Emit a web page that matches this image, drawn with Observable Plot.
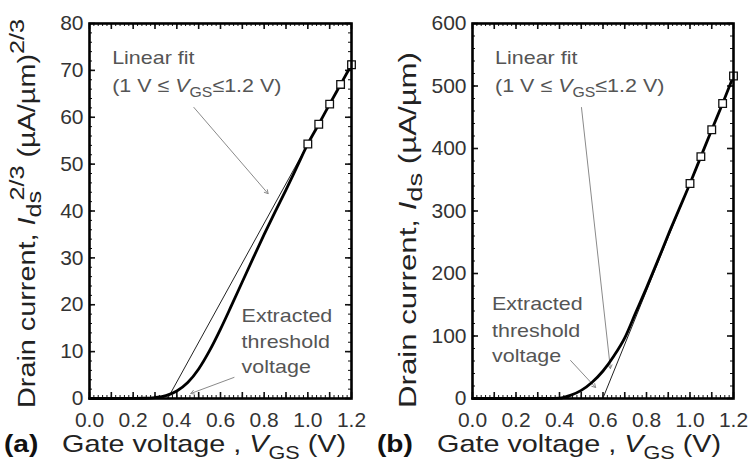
<!DOCTYPE html>
<html>
<head>
<meta charset="utf-8">
<script src="https://cdn.jsdelivr.net/npm/d3@7"></script>
<script src="https://cdn.jsdelivr.net/npm/@observablehq/plot@0.6"></script>
<style>
  html, body { margin: 0; background: #fff; }
  #wrap { display: flex; width: 749px; height: 472px; overflow: hidden; }
  #wrap svg { display: block; flex: none; }
</style>
</head>
<body>
<div id="wrap"></div>
<script>
// Gate-voltage sweep (V) shared by both measured curves
const vgs = [0, 0.1, 0.2, 0.25, 0.3, 0.35, 0.4, 0.45, 0.5, 0.55, 0.6, 0.65, 0.7, 0.75, 0.8, 0.85, 0.9, 0.95, 1.0, 1.05, 1.1, 1.15, 1.2];

// (a) Ids^(2/3) in (µA/µm)^(2/3)
const idsPow = [0, 0, 0.02, 0.05, 0.2, 0.6, 1.6, 3.4, 6.3, 10.2, 14.8, 19.8, 24.9, 30.0, 35.0, 39.8, 44.5, 49.4, 54.3, 58.5, 62.8, 67.0, 71.2];
// (b) Ids in µA/µm
const ids = [0, 0, 0, 0, 0, 0, 0.5, 5, 13, 26, 44, 68, 97, 137, 177, 219, 262, 303, 344, 387, 430, 472, 516];

// Points used for the linear fit (1 V ≤ VGS ≤ 1.2 V)
const fitVgs = [1.0, 1.05, 1.1, 1.15, 1.2];
const fitIdsPow = [54.3, 58.5, 62.8, 67.0, 71.2];
const fitIds = [344, 387, 430, 472, 516];

// Axis tick labels
const xTicks = [0, 0.2, 0.4, 0.6, 0.8, 1.0, 1.2];
const yTicksA = [0, 10, 20, 30, 40, 50, 60, 70, 80];
const yTicksB = [0, 100, 200, 300, 400, 500, 600];

const FONT = "'Liberation Sans', Arial, Helvetica, sans-serif";
const H = 472, MT = 23, MB = 74;

// Append a (possibly stretched / rotated) rich-text label made of tspans
function richText(svg, x, y, parts, {size, fill = "#222", stretch = 1, rotate = 0, weight = "normal"}) {
  const g = svg.append("g")
    .attr("transform", `translate(${x},${y}) rotate(${rotate}) scale(${stretch},1)`);
  const t = g.append("text")
    .attr("text-anchor", "start")
    .attr("font-family", FONT)
    .attr("font-size", size)
    .attr("font-weight", weight)
    .attr("fill", fill);
  for (const p of parts) {
    const s = t.append("tspan").text(p.text);
    if (p.italic) s.attr("font-style", "italic");
    if (p.size) s.attr("font-size", p.size);
    if (p.dy) s.attr("dy", p.dy);
    if (p.dx) s.attr("dx", p.dx);
  }
  return g;
}

function panel(cfg) {
  const {width, marginLeft, marginRight, yMax, yTicks, yMinorStep, yMajorStep, curveY, sqY, notes} = cfg;
  const innerW = width - marginLeft - marginRight;
  const innerH = H - MT - MB;

  const curve = vgs.map((x, i) => ({x, y: curveY[i]}));
  const squares = fitVgs.map((x, i) => ({x, y: sqY[i]}));

  // least-squares line through the fit points, drawn from its x-intercept (threshold) to 1.2 V
  const mx = d3.mean(fitVgs), my = d3.mean(sqY);
  const slope = d3.sum(fitVgs, (x, i) => (x - mx) * (sqY[i] - my)) / d3.sum(fitVgs, x => (x - mx) ** 2);
  const vth = mx - my / slope;
  const fitLine = [{x: vth, y: 0}, {x: 1.2, y: my + slope * (1.2 - mx)}];

  const xMinor = d3.range(0, 1.2001, 0.02);
  const xMajor = d3.range(0, 1.2001, 0.1);
  const yMinor = d3.range(0, yMax + 1e-9, yMinorStep);
  const yMajor = d3.range(0, yMax + 1e-9, yMajorStep);

  const tick = {stroke: "#111"};
  const plot = Plot.plot({
    width, height: H, marginLeft, marginRight, marginTop: MT, marginBottom: MB,
    style: {fontFamily: FONT, background: "transparent", color: "#333", overflow: "visible"},
    x: {domain: [0, 1.2]},
    y: {domain: [0, yMax]},
    marks: [
      // inward ticks on all four sides
      Plot.ruleX(xMinor, {...tick, insetTop: innerH - 3}),
      Plot.ruleX(xMinor, {...tick, insetBottom: innerH - 3}),
      Plot.ruleX(xMajor, {...tick, strokeWidth: 1.6, insetTop: innerH - 6}),
      Plot.ruleX(xMajor, {...tick, strokeWidth: 1.6, insetBottom: innerH - 6}),
      Plot.ruleY(yMinor, {...tick, insetRight: innerW - 3}),
      Plot.ruleY(yMinor, {...tick, insetLeft: innerW - 3}),
      Plot.ruleY(yMajor, {...tick, strokeWidth: 1.6, insetRight: innerW - 6}),
      Plot.ruleY(yMajor, {...tick, strokeWidth: 1.6, insetLeft: innerW - 6}),
      // annotation leaders
      Plot.arrow([notes.fitArrow], {x1: "x1", y1: "y1", x2: "x2", y2: "y2", stroke: "#8a8a8a", strokeWidth: 1, headLength: 6}),
      Plot.arrow([notes.vtArrow], {x1: "x1", y1: "y1", x2: "x2", y2: "y2", stroke: "#8a8a8a", strokeWidth: 1, headLength: 6}),
      // linear fit
      Plot.line(fitLine, {x: "x", y: "y", stroke: "#222", strokeWidth: 1}),
      // measured characteristic
      Plot.line(curve, {x: "x", y: "y", stroke: "#000", strokeWidth: 2.8, curve: "monotone-x"}),
      Plot.dot(squares, {x: "x", y: "y", symbol: "square", r: 4.3, fill: "#fff", stroke: "#111", strokeWidth: 1.3}),
      Plot.frame({stroke: "#000", strokeWidth: 2.6}),
      Plot.axisX(xTicks, {tickSize: 0, tickPadding: 14, fontSize: 21, tickFormat: d3.format(".1f"), label: null}),
      Plot.axisY(yTicks, {tickSize: 0, tickPadding: 6, fontSize: 21, label: null})
    ]
  });

  const svg = d3.select(plot);
  const sx = plot.scale("x"), sy = plot.scale("y");
  const noteFill = "#555";
  const nStyle = {size: 19, fill: noteFill, stretch: 1.13};

  richText(svg, sx.apply(notes.fitText.x), sy.apply(notes.fitText.y1), [{text: "Linear fit"}], nStyle);
  richText(svg, sx.apply(notes.fitText.x), sy.apply(notes.fitText.y2), [
    {text: "(1 V ≤ "},
    {text: "V", italic: true},
    {text: "GS", size: 14, dy: 5},
    {text: "≤1.2 V)", dy: -5}
  ], nStyle);
  ["Extracted", "threshold", "voltage"].forEach((line, i) => {
    richText(svg, sx.apply(notes.vtText.x), sy.apply(notes.vtText.ys[i]), [{text: line}], nStyle);
  });

  // axis titles
  richText(svg, cfg.labelX, 452, [
    {text: "Gate voltage , "},
    {text: "V", italic: true},
    {text: "GS", size: 18, dy: 7},
    {text: " (V)", dy: -7}
  ], {size: 24, fill: "#222", stretch: 1.2});
  richText(svg, cfg.tagX, 452, [{text: cfg.tag}], {size: 24, fill: "#111", stretch: 1.17, weight: "bold"});
  richText(svg, cfg.yLabelX, 408, cfg.yLabel, {size: 24, fill: "#222", stretch: cfg.yLabelStretch, rotate: -90});

  return plot;
}

const wrap = document.getElementById("wrap");

wrap.appendChild(panel({
  width: 375, marginLeft: 89, marginRight: 24,
  yMax: 80, yTicks: yTicksA, yMinorStep: 2, yMajorStep: 10,
  curveY: idsPow, sqY: fitIdsPow,
  tag: "(a)", tagX: 4, labelX: 62, yLabelX: 35, yLabelStretch: 1.2,
  yLabel: [
    {text: "Drain current, "},
    {text: "I", italic: true},
    {text: "ds", size: 21, dy: 6},
    {text: "2/3", size: 21, dy: -17, dx: -8},
    {text: " (µA/µm)", dy: 11},
    {text: "2/3", size: 21, dy: -11}
  ],
  notes: {
    fitText: {x: 0.106, y1: 71.25, y2: 65.3},
    fitArrow: {x1: 0.478, y1: 62.1, x2: 0.818, y2: 43.7},
    vtText: {x: 0.699, ys: [16.2, 10.7, 5.33]},
    vtArrow: {x1: 0.662, y1: 4.5, x2: 0.464, y2: 1.07}
  }
}));

wrap.appendChild(panel({
  width: 374, marginLeft: 97, marginRight: 16,
  yMax: 600, yTicks: yTicksB, yMinorStep: 20, yMajorStep: 100,
  curveY: ids, sqY: fitIds,
  tag: "(b)", tagX: 2, labelX: 62, yLabelX: 41, yLabelStretch: 1.3,
  yLabel: [
    {text: "Drain current, "},
    {text: "I", italic: true},
    {text: "ds", size: 21, dy: 6},
    {text: " (µA/µm)", dy: -6}
  ],
  notes: {
    fitText: {x: 0.106, y1: 534.4, y2: 489.6},
    fitArrow: {x1: 0.501, y1: 465.6, x2: 0.634, y2: 48},
    vtText: {x: 0.092, ys: [140.8, 98.1, 58.1]},
    vtArrow: {x1: 0.451, y1: 60.8, x2: 0.566, y2: 17.6}
  }
}));
</script>
</body>
</html>
